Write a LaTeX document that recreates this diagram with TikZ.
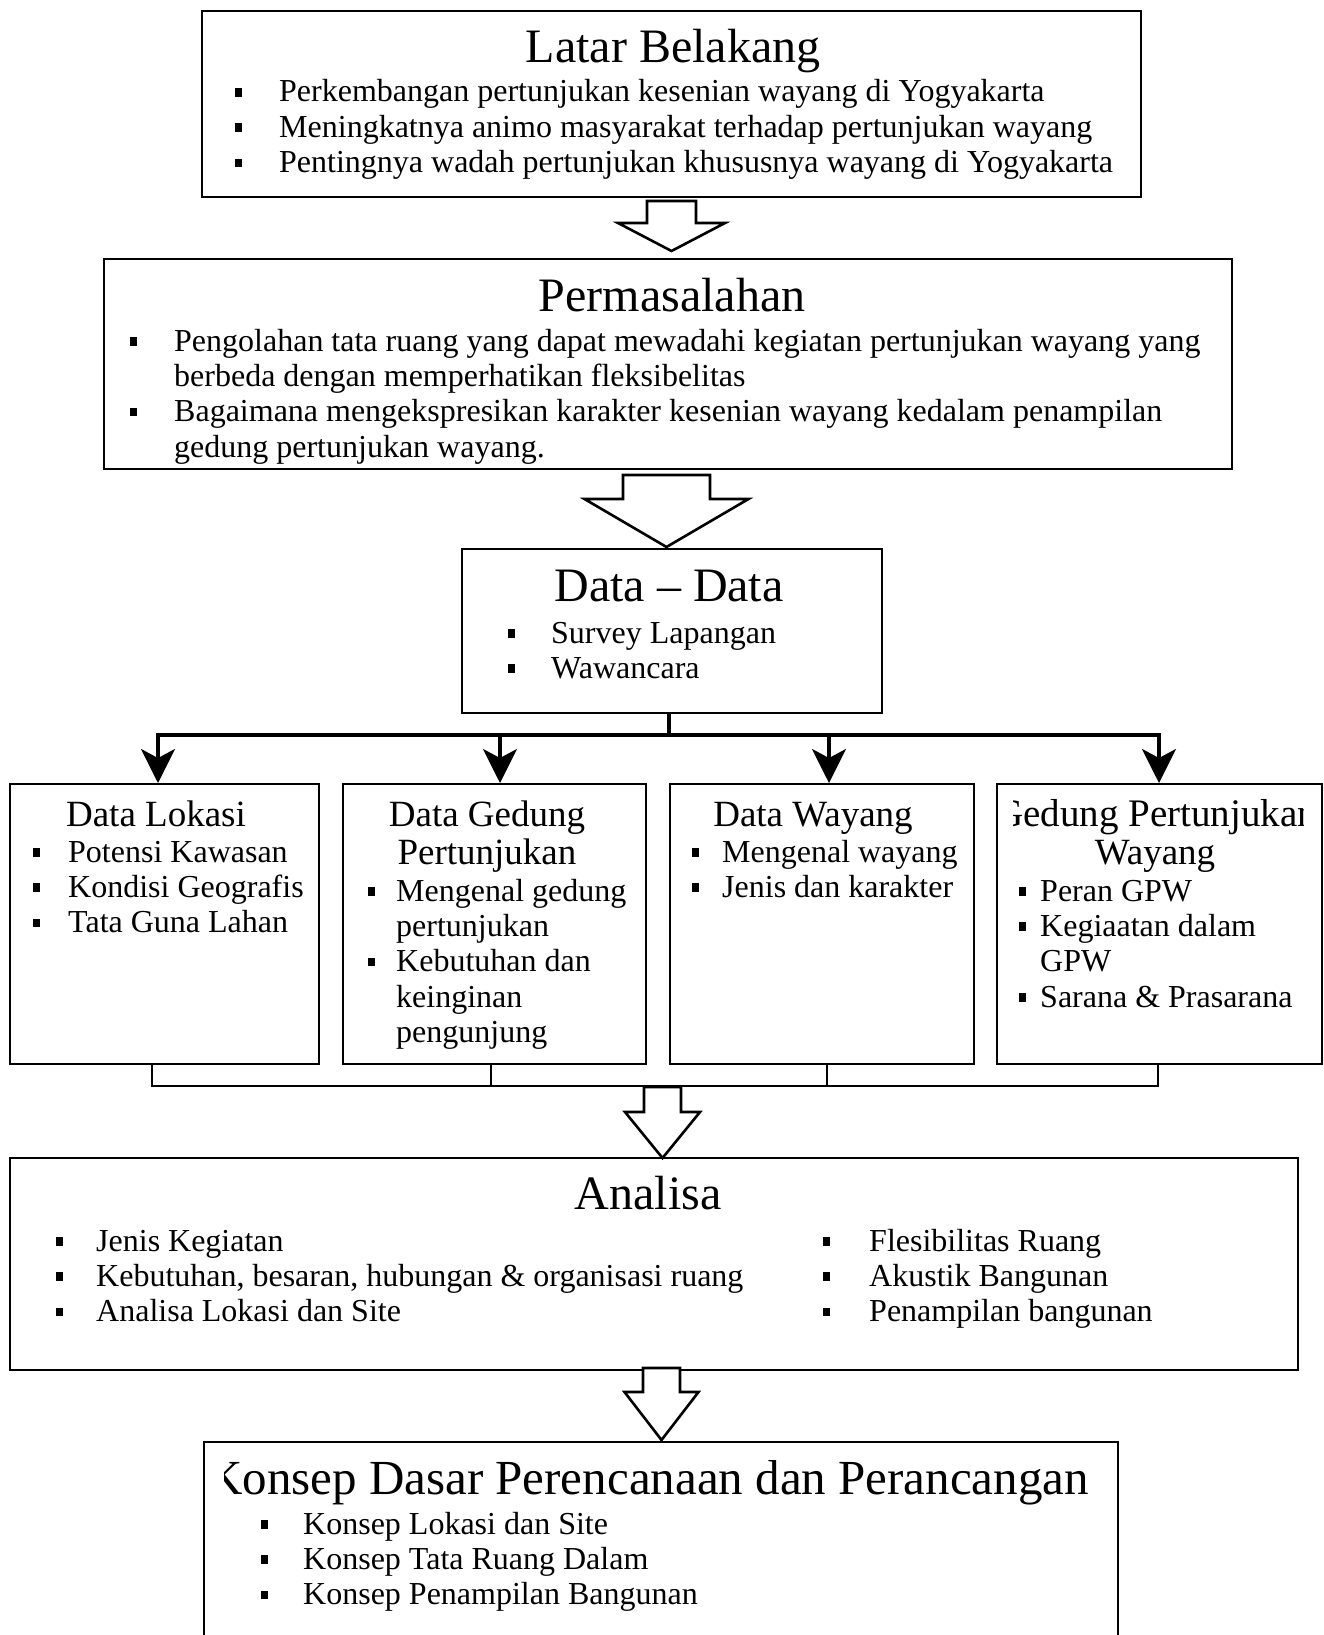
\documentclass[tikz,border=0pt]{standalone}
\usepackage{fontspec}
\setmainfont{Liberation Serif}
\usepackage{array}
\usetikzlibrary{arrows.meta}

\newcommand{\bul}{\rule[0.17em]{0.2em}{0.27em}}
\newcommand{\blist}[2]{\begin{tabular}[t]{@{}p{#1}@{}l@{}}#2\end{tabular}}
\newcommand{\bigttl}{\fontsize{48}{52}\selectfont}
\newcommand{\boxttl}{\fontsize{37}{38.5}\selectfont}
\newcommand{\bodytxt}{\fontsize{32}{35.4}\selectfont}
\newcommand{\harrow}[6]{\draw[hollow] ({#1-#5},#2) -- ({#1+#5},#2) -- ({#1+#5},#3) -- ({#1+#6},#3) -- (#1,#4) -- ({#1-#6},#3) -- ({#1-#5},#3) -- cycle;}

\begin{document}
\begin{tikzpicture}[x=1pt,y=-1pt,
  frame/.style={draw, line width=2.4pt, inner sep=0pt, anchor=north west},
  ttl/.style={anchor=base, inner sep=0pt, font=\bigttl},
  bttl/.style={anchor=base, inner sep=0pt, font=\boxttl},
  lst/.style={anchor=base west, inner sep=0pt, font=\bodytxt},
  hollow/.style={draw, line width=2.6pt, fill=white, line join=miter},
  tree/.style={line width=3.4pt},
  treeb/.style={line width=2.2pt},
  tarrow/.style={tree, -{Stealth[length=34pt,width=34pt,inset=9pt]}}
]
\useasboundingbox (0,0) rectangle (1324,1635);
\clip (0,0) rectangle (1324,1635);
\fill[white] (0,0) rectangle (1324,1635);

% ---- Latar Belakang
\node[frame, minimum width=939pt, minimum height=186pt] (lb) at (201,10) {};
\node[ttl] (lbT) at (673,63) {Latar Belakang};
\node[lst] (lbL) at (235,102) {\blist{44pt}{%
\bul & Perkembangan pertunjukan kesenian wayang di Yogyakarta\\
\bul & Meningkatnya animo masyarakat terhadap pertunjukan wayang\\
\bul & Pentingnya wadah pertunjukan khususnya wayang di Yogyakarta}};

% ---- Permasalahan
\node[frame, minimum width=1128pt, minimum height=210pt] (pm) at (103,258) {};
\node[ttl] (pmT) at (672,311) {Permasalahan};
\node[lst] (pmL) at (130,351) {\blist{44pt}{%
\bul & Pengolahan tata ruang yang dapat mewadahi kegiatan pertunjukan wayang yang\\
 & berbeda dengan memperhatikan fleksibelitas\\
\bul & Bagaimana mengekspresikan karakter kesenian wayang kedalam penampilan\\
 & gedung pertunjukan wayang.}};

% ---- Data - Data
\node[frame, minimum width=420pt, minimum height=164pt] (dd) at (461,548) {};
\node[ttl] (ddT) at (669,601) {Data -- Data};
\node[lst] (ddL) at (508,643) {\blist{43pt}{%
\bul & Survey Lapangan\\
\bul & Wawancara}};

% ---- four data boxes
\node[frame, minimum width=309pt, minimum height=280pt] (b1) at (9,783) {};
\node[frame, minimum width=303pt, minimum height=280pt] (b2) at (342,783) {};
\node[frame, minimum width=304pt, minimum height=280pt] (b3) at (669,783) {};
\node[frame, minimum width=325pt, minimum height=280pt] (b4) at (996,783) {};

\node[bttl] (b1T) at (156,826) {Data Lokasi};
\node[lst] (b1L) at (33,862) {\blist{35pt}{%
\bul & Potensi Kawasan\\
\bul & Kondisi Geografis\\
\bul & Tata Guna Lahan}};

\node[bttl] (b2T) at (487,826) {Data Gedung};
\node[bttl] (b2U) at (487,864) {Pertunjukan};
\node[lst] (b2L) at (368,901) {\blist{28pt}{%
\bul & Mengenal gedung\\
 & pertunjukan\\
\bul & Kebutuhan dan\\
 & keinginan\\
 & pengunjung}};

\node[bttl] (b3T) at (813,826) {Data Wayang};
\node[lst] (b3L) at (692,862) {\blist{30pt}{%
\bul & Mengenal wayang\\
\bul & Jenis dan karakter}};

\begin{scope}
\clip (1013,790) rectangle (1303,840);
\node[bttl, font=\fontsize{39}{40}\selectfont] (b4T) at (1156,826) {Gedung Pertunjukan};
\end{scope}
\node[bttl] (b4U) at (1155,864) {Wayang};
\node[lst] (b4L) at (1019,901) {\blist{21pt}{%
\bul & Peran GPW\\
\bul & Kegiaatan dalam\\
 & GPW\\
\bul & Sarana \& Prasarana}};

% ---- Analisa
\node[frame, minimum width=1288pt, minimum height=212pt] (an) at (9,1157) {};
\node[ttl] (anT) at (648,1209) {Analisa};
\node[lst] (anL) at (56,1251) {\blist{40pt}{%
\bul & Jenis Kegiatan\\
\bul & Kebutuhan, besaran, hubungan \& organisasi ruang\\
\bul & Analisa Lokasi dan Site}};
\node[lst] (anR) at (823,1251) {\blist{46pt}{%
\bul & Flesibilitas Ruang\\
\bul & Akustik Bangunan\\
\bul & Penampilan bangunan}};

% ---- Konsep
\node[frame, minimum width=914pt, minimum height=230pt] (ks) at (203,1441) {};
\begin{scope}
\clip (224,1445) rectangle (1117,1520);
\node[ttl, anchor=base east, font=\fontsize{49}{52}\selectfont] (ksT) at (1089,1494) {Konsep Dasar Perencanaan dan Perancangan};
\end{scope}
\node[lst] (ksL) at (261,1534) {\blist{42pt}{%
\bul & Konsep Lokasi dan Site\\
\bul & Konsep Tata Ruang Dalam\\
\bul & Konsep Penampilan Bangunan}};

% ---- tree from Data - Data
\coordinate (j) at (669,735);
\coordinate (t1) at (158,735);
\coordinate (t2) at (500,735);
\coordinate (t3) at (829,735);
\coordinate (t4) at (1159,735);
\draw[tree] (dd.south -| j) -- (j);
\draw[tree, line cap=rect] (t1) -- (t4);
\draw[tarrow] (t1) -- (t1 |- b1.north);
\draw[tarrow] (t2) -- (t2 |- b2.north);
\draw[tarrow] (t3) -- (t3 |- b3.north);
\draw[tarrow] (t4) -- (t4 |- b4.north);

% ---- join under the four boxes
\coordinate (u1) at (152,1086);
\coordinate (u2) at (491,1086);
\coordinate (u3) at (827,1086);
\coordinate (u4) at (1158,1086);
\draw[treeb] (u1 |- b1.south) -- (u1);
\draw[treeb] (u2 |- b2.south) -- (u2);
\draw[treeb] (u3 |- b3.south) -- (u3);
\draw[treeb] (u4 |- b4.south) -- (u4);
\draw[treeb, line cap=rect] (u1) -- (u4);

% ---- hollow arrows
\harrow{671.5}{201}{223}{251}{24.5}{53.5}
\harrow{666.5}{475}{499}{547}{43.5}{82}
\harrow{662.5}{1087}{1112}{1158}{18.5}{37.5}
\harrow{661.5}{1368}{1392}{1440}{18.5}{37}
\end{tikzpicture}
\end{document}
